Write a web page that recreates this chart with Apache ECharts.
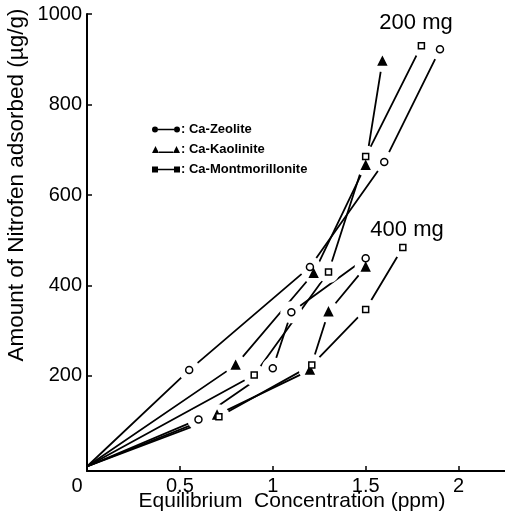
<!DOCTYPE html>
<html>
<head>
<meta charset="utf-8">
<script src="https://cdn.jsdelivr.net/npm/echarts@6/dist/echarts.min.js"></script>
<style>
  html, body { margin: 0; padding: 0; background: #fff; }
  #chart { width: 505px; height: 523px; }
</style>
</head>
<body>
<div id="chart"></div>
<script>
// Nitrofen adsorption isotherms on Ca-clays, two adsorbent doses
const xTicks = [0, 0.5, 1, 1.5, 2];
const yTicks = [200, 400, 600, 800, 1000];
const materials = ['Ca-Zeolite', 'Ca-Kaolinite', 'Ca-Montmorillonite'];

// 200 mg dose: [concentration (ppm), amount adsorbed (µg/g)]
const zeolite200 = [[0, 0], [0.55, 213], [1.2, 441], [1.6, 673], [1.9, 922]];
const kaolinite200 = [[0, 0], [0.8, 224], [1.22, 427], [1.5, 666], [1.59, 896]];
const montmor200 = [[0, 0], [0.9, 202], [1.3, 430], [1.5, 685], [1.8, 930]];

// 400 mg dose
const zeolite400 = [[0, 0], [0.6, 104], [1.0, 217], [1.1, 341], [1.5, 460]];
const kaolinite400 = [[0, 0], [0.7, 114], [1.2, 213], [1.3, 342], [1.5, 441]];
const montmor400 = [[0, 0], [0.71, 110], [1.21, 224], [1.5, 347], [1.7, 484]];

const FONT = '"Liberation Sans", Arial, sans-serif';

const groups = [
  { name: materials[0], data: zeolite200, symbol: 'circle', size: 7, fill: '#fff' },
  { name: materials[1], data: kaolinite200, symbol: 'triangle', size: 8, fill: '#000' },
  { name: materials[2], data: montmor200, symbol: 'rect', size: 6, fill: '#fff' },
  { name: materials[0], data: zeolite400, symbol: 'circle', size: 7, fill: '#fff' },
  { name: materials[1], data: kaolinite400, symbol: 'triangle', size: 8, fill: '#000' },
  { name: materials[2], data: montmor400, symbol: 'rect', size: 6, fill: '#fff' }
];

const series = [];
groups.forEach(g => {
  // connecting line from the origin
  series.push({
    name: g.name, type: 'line', data: g.data, showSymbol: false,
    lineStyle: { color: '#000', width: 1.8 }, itemStyle: { color: '#000' },
    z: 2, animation: false, silent: true
  });
  // white halo that opens a gap in the lines around each marker
  series.push({
    name: g.name + ' halo', type: 'scatter', data: g.data.slice(1),
    symbol: 'circle', symbolSize: 22,
    itemStyle: { color: '#fff', opacity: 1 }, z: 3, animation: false, silent: true
  });
  // the marker itself
  series.push({
    name: g.name + ' point', type: 'scatter', data: g.data.slice(1),
    symbol: g.symbol, symbolSize: g.size,
    itemStyle: { color: g.fill, borderColor: '#000', borderWidth: 1.5, opacity: 1 },
    z: 4, animation: false, silent: true
  });
});

const legendIcons = {
  'Ca-Zeolite': 'path://M0,4a3,3 0 1,0 6,0a3,3 0 1,0 -6,0z M6,3.2h16v1.6h-16z M22,4a3,3 0 1,0 6,0a3,3 0 1,0 -6,0z',
  'Ca-Kaolinite': 'path://M0,8L3.5,1L7,8z M7,6.4h14v1.6h-14z M21,8L24.5,1L28,8z',
  'Ca-Montmorillonite': 'path://M0,1h6v6h-6z M6,3.2h16v1.6h-16z M22,1h6v6h-6z'
};

const chart = echarts.init(document.getElementById('chart'), null, { renderer: 'canvas' });
chart.setOption({
  backgroundColor: '#fff',
  animation: false,
  grid: { left: 87, top: 14, width: 418, height: 457, containLabel: false },
  xAxis: {
    type: 'value', min: 0, max: 2.25,
    axisLine: { show: true, onZero: false, lineStyle: { color: '#000', width: 2 } },
    axisTick: { show: true, inside: true, length: 5, customValues: xTicks.slice(1), lineStyle: { color: '#000', width: 1.5 } },
    axisLabel: {
      customValues: xTicks, margin: 5, color: '#000', fontFamily: FONT, fontSize: 20,
      formatter: v => v === 0 ? '{z|0}' : String(v),
      rich: { z: { padding: [0, 20, 0, 0], fontFamily: FONT, fontSize: 20, color: '#000' } }
    },
    splitLine: { show: false }
  },
  yAxis: {
    type: 'value', min: -10, max: 1000,
    axisLine: { show: true, onZero: false, lineStyle: { color: '#000', width: 2 } },
    axisTick: { show: true, inside: true, length: 5, customValues: yTicks, lineStyle: { color: '#000', width: 1.5 } },
    axisLabel: { customValues: yTicks, margin: 5, color: '#000', fontFamily: FONT, fontSize: 20, formatter: v => String(v) },
    splitLine: { show: false }
  },
  legend: {
    data: materials.map(m => ({ name: m, icon: legendIcons[m] })),
    orient: 'vertical', left: 147, top: 118,
    itemWidth: 28, itemHeight: 8, itemGap: 7,
    itemStyle: { color: '#000', borderWidth: 0 },
    lineStyle: { width: 0 },
    formatter: n => ': ' + n,
    textStyle: { color: '#000', fontFamily: FONT, fontSize: 13, fontWeight: 'bold', padding: [0, 0, 0, -4] },
    selectedMode: false
  },
  graphic: [
    {
      type: 'text', x: 17, y: 185, rotation: Math.PI / 2,
      style: { text: 'Amount of Nitrofen adsorbed (µg/g)', fontFamily: FONT, fontSize: 22.5, fill: '#000', align: 'center', verticalAlign: 'middle' }
    },
    {
      type: 'text', x: 292, y: 501,
      style: { text: 'Equilibrium  Concentration (ppm)', fontFamily: FONT, fontSize: 21, fill: '#000', align: 'center', verticalAlign: 'middle' }
    },
    {
      type: 'text', x: 416, y: 23,
      style: { text: '200 mg', fontFamily: FONT, fontSize: 22, fill: '#000', align: 'center', verticalAlign: 'middle' }
    },
    {
      type: 'text', x: 407, y: 230,
      style: { text: '400 mg', fontFamily: FONT, fontSize: 22, fill: '#000', align: 'center', verticalAlign: 'middle' }
    }
  ],
  series: series
});
</script>
</body>
</html>
